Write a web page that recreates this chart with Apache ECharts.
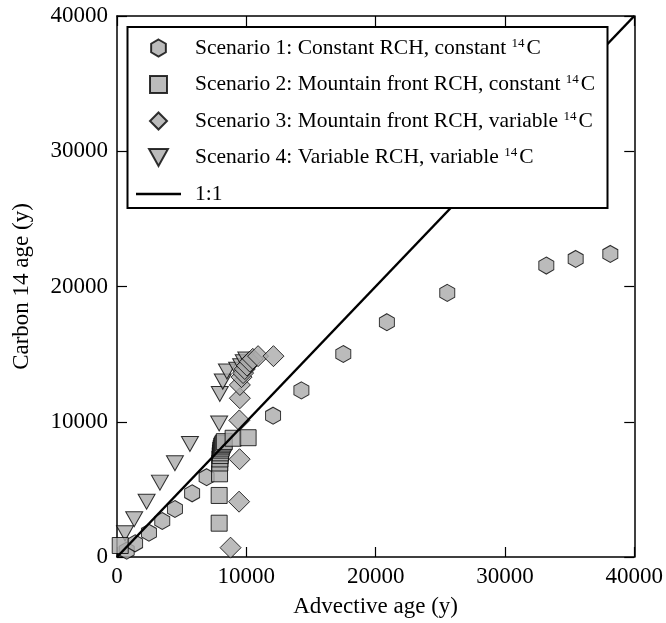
<!DOCTYPE html>
<html>
<head>
<meta charset="utf-8">
<script src="https://cdn.jsdelivr.net/npm/echarts@6/dist/echarts.min.js"></script>
<style>
  html, body { margin: 0; padding: 0; background: #fff; }
  #chart { width: 666px; height: 623px; }
</style>
</head>
<body>
<div id="chart"></div>
<script>
// advective age vs carbon 14 age
const xTicks = [0, 10000, 20000, 30000, 40000];
const yTicks = [0, 10000, 20000, 30000, 40000];

const scenario1 = [[750, 470], [1400, 1010], [2470, 1800], [3500, 2660], [4480, 3550],
  [5810, 4710], [6930, 5900], [12070, 10450], [14260, 12320], [17500, 15010],
  [20870, 17360], [25540, 19530], [33200, 21550], [35470, 22040], [38150, 22410]];

const scenario2 = [[250, 850], [7900, 2500], [7900, 4550], [7930, 6150], [7950, 6950],
  [7960, 7250], [7980, 7500], [8000, 7700], [8020, 7900], [8060, 8050], [8100, 8200],
  [8150, 8300], [8220, 8420], [8300, 8530], [8980, 8780], [10140, 8820]];

const scenario3 = [[8780, 690], [9440, 4090], [9480, 7230], [9460, 10100], [9500, 11740],
  [9500, 12720], [9630, 13300], [9750, 13600], [9880, 13900], [10050, 14150],
  [10270, 14450], [10500, 14650], [10910, 14850], [12100, 14850]];

const scenario4 = [[620, 1750], [1330, 2790], [2290, 4090], [3320, 5500], [4480, 6930],
  [5640, 8360], [7900, 9870], [7950, 12050], [8180, 12970], [8500, 13710],
  [9290, 13850], [9600, 14100], [9800, 14400], [10000, 14600]];

const oneToOne = [[0, 0], [40000, 40000]];

const legendNames = ['Scenario 1', 'Scenario 2', 'Scenario 3', 'Scenario 4', '1:1'];
const legendText = {
  'Scenario 1': ['Scenario 1: Constant RCH, constant ', '14', 'C'],
  'Scenario 2': ['Scenario 2: Mountain front RCH, constant ', '14', 'C'],
  'Scenario 3': ['Scenario 3: Mountain front RCH, variable ', '14', 'C'],
  'Scenario 4': ['Scenario 4: Variable RCH, variable ', '14', 'C'],
  '1:1': ['1:1', '', '']
};

const FONT = 'Liberation Serif';
const HEX = 'path://M0,-10 L8.66,-5 L8.66,5 L0,10 L-8.66,5 L-8.66,-5 Z';
const TRI = 'path://M0,0 L10,0 L5,9 Z';
const DIA = 'path://M0,-10 L10,0 L0,10 L-10,0 Z';
const SQR = 'path://M0,0 L10,0 L10,10 L0,10 Z';
const LINE_ICON = 'path://M0,0 L45,0 L45,2.6 L0,2.6 Z';
const fill = { color: '#aaaaaa', borderColor: '#000', borderWidth: 1 };

const chart = echarts.init(document.getElementById('chart'), null, { renderer: 'canvas' });

const axisCommon = {
  type: 'value', min: 0, max: 40000, interval: 10000,
  axisLine: { show: true, onZero: false, lineStyle: { color: '#000', width: 1.5 } },
  axisTick: { show: true, inside: true, length: 10, lineStyle: { color: '#000', width: 1.2 } },
  splitLine: { show: false }
};

const option = {
  backgroundColor: '#fff',
  animation: false,
  grid: { left: 117, top: 16, width: 518, height: 541 },
  xAxis: [
    Object.assign({}, axisCommon, {
      position: 'bottom',
      name: 'Advective age (y)', nameLocation: 'middle', nameGap: 38,
      nameTextStyle: { fontFamily: FONT, fontSize: 23, color: '#000' },
      axisLabel: { fontFamily: FONT, fontSize: 23, color: '#000', margin: 8,
        formatter: v => xTicks.includes(v) ? String(v) : '' }
    }),
    Object.assign({}, axisCommon, { position: 'top', axisLabel: { show: false } })
  ],
  yAxis: [
    Object.assign({}, axisCommon, {
      position: 'left',
      name: 'Carbon 14 age (y)', nameLocation: 'middle', nameGap: 84, nameRotate: 90,
      nameTextStyle: { fontFamily: FONT, fontSize: 23, color: '#000' },
      axisLabel: { fontFamily: FONT, fontSize: 23, color: '#000', margin: 9,
        formatter: v => yTicks.includes(v) ? String(v) : '' }
    }),
    Object.assign({}, axisCommon, { position: 'right', axisLabel: { show: false } })
  ],
  legend: {
    z: 20,
    left: 136, top: 37, orient: 'vertical', padding: 0,
    itemWidth: 45, itemHeight: 17, itemGap: 14.5,
    symbolKeepAspect: true,
    data: [
      { name: 'Scenario 1', icon: HEX },
      { name: 'Scenario 2', icon: SQR },
      { name: 'Scenario 3', icon: DIA },
      { name: 'Scenario 4', icon: TRI },
      { name: '1:1', icon: LINE_ICON, itemStyle: { color: '#000', borderWidth: 0 } }
    ],
    formatter: name => {
      const t = legendText[name];
      return '{gap|}{n|' + t[0] + '}' + (t[1] ? '{sup|' + t[1] + '}{n|' + t[2] + '}' : '');
    },
    textStyle: {
      fontFamily: FONT, fontSize: 21.5, color: '#000',
      rich: {
        gap: { width: 9 },
        n: { fontFamily: FONT, fontSize: 21.5, color: '#000', lineHeight: 22 },
        sup: { fontFamily: FONT, fontSize: 13, color: '#000', verticalAlign: 'top', padding: [0, 2, 0, 0] }
      }
    }
  },
  graphic: [{
    type: 'rect', z: 15,
    shape: { x: 127.5, y: 27, width: 480, height: 181 },
    style: { fill: '#fff', stroke: '#000', lineWidth: 2 }
  }],
  series: [
    { name: 'Scenario 1', type: 'scatter', data: scenario1, symbol: HEX, symbolSize: [15, 17],
      itemStyle: fill, z: 2 },
    { name: 'Scenario 4', type: 'scatter', data: scenario4, symbol: TRI, symbolSize: [17, 15],
      itemStyle: fill, z: 3 },
    { name: 'Scenario 2', type: 'scatter', data: scenario2, symbol: SQR, symbolSize: 16,
      itemStyle: fill, z: 4 },
    { name: 'Scenario 3', type: 'scatter', data: scenario3, symbol: DIA, symbolSize: 21,
      itemStyle: fill, z: 5 },
    { name: '1:1', type: 'line', data: oneToOne, showSymbol: false, symbol: 'none',
      lineStyle: { color: '#000', width: 2.5 }, itemStyle: { color: '#000' }, z: 8 }
  ]
};

chart.setOption(option);
</script>
</body>
</html>
